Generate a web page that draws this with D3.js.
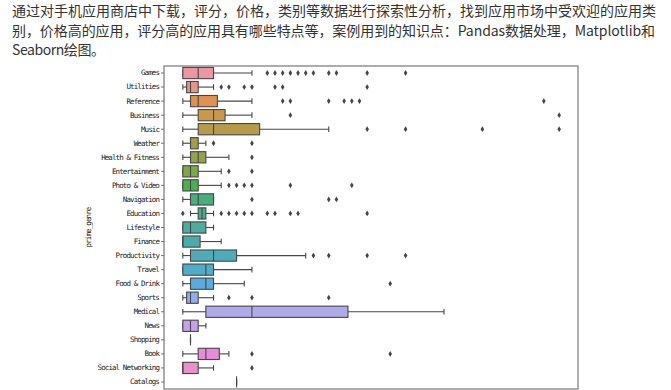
<!DOCTYPE html>
<html>
<head>
<meta charset="utf-8">
<script src="https://cdn.jsdelivr.net/npm/d3@7/dist/d3.min.js"></script>
<style>
  html, body { margin: 0; padding: 0; background: #fff; }
  svg { display: block; }
</style>
</head>
<body>
<svg id="chart" width="671" height="390"></svg>
<script>
// ---------------- DATA ----------------
const introLines = [
  "通过对手机应用商店中下载，评分，价格，类别等数据进行探索性分析，找到应用市场中受欢迎的应用类",
  "别，价格高的应用，评分高的应用具有哪些特点等，案例用到的知识点：Pandas数据处理，Matplotlib和",
  "Seaborn绘图。"
];
const yLabel = "prime_genre";
const genres = ["Games","Utilities","Reference","Business","Music","Weather","Health & Fitness",
  "Entertainment","Photo & Video","Navigation","Education","Lifestyle","Finance","Productivity",
  "Travel","Food & Drink","Sports","Medical","News","Shopping","Book","Social Networking","Catalogs"];
const whiskerLow  = [0.99,0.99,0.99,0.99,0.99,0.99,0.99,0.99,0.99,0.99,1.99,0.99,0.99,0.99,0.99,0.99,0.99,0.99,0.99,1.99,0.99,0.99,7.99];
const q1          = [0.99,1.49,1.99,2.99,2.99,1.99,1.99,0.99,0.99,1.99,2.99,0.99,0.99,1.99,0.99,1.99,1.49,3.99,0.99,1.99,2.99,0.99,7.99];
const medians     = [2.99,1.99,2.99,4.99,4.99,1.99,2.99,1.99,1.99,2.99,3.49,1.99,0.99,4.99,3.99,3.99,1.99,9.99,1.99,1.99,3.99,0.99,7.99];
const q3          = [4.99,2.99,5.49,6.49,10.99,2.99,3.99,2.99,2.99,4.99,3.99,3.99,3.24,7.99,4.99,4.99,2.99,22.49,2.99,1.99,5.74,2.99,7.99];
const whiskerHigh = [9.99,4.99,9.99,9.99,19.99,3.99,6.99,5.99,5.99,4.99,4.99,4.99,5.99,16.99,9.99,8.99,4.99,34.99,3.99,1.99,6.99,4.99,7.99];
const outliers = [
  [11.99,12.99,13.99,14.99,15.99,16.99,17.99,19.99,20.99,24.99,29.99],
  [5.99,6.99,8.99,9.99,12.99,13.99,24.99],
  [13.99,14.99,19.99,21.99,22.99,23.99,47.99],
  [14.99,49.99],
  [24.99,29.99,39.99,49.99],
  [4.99,9.99],
  [9.99],
  [6.99,9.99],
  [6.99,7.99,8.99,9.99,14.99,22.99],
  [9.99,19.99,20.99],
  [0.99,5.99,6.99,7.99,8.99,9.99,11.99,12.99,14.99,15.99,24.99],
  [],
  [],
  [17.99,19.99,24.99,29.99],
  [],
  [27.99],
  [6.99,9.99,19.99],
  [],
  [],
  [],
  [9.99,27.99],
  [9.99],
  []
];

// ---------------- seaborn-like husl palette ----------------
const M = [[3.2406,-1.5372,-0.4986],[-0.9689,1.8758,0.0415],[0.0557,-0.2040,1.0570]];
const refU = 0.19784, refV = 0.46834, labE = 0.008856, labK = 903.3;
function maxChroma(L, H) {
  const hr = H * Math.PI / 180, sinH = Math.sin(hr), cosH = Math.cos(hr);
  const sub1 = Math.pow(L + 16, 3) / 1560896.0;
  const sub2 = sub1 > 0.008856 ? sub1 : L / 903.3;
  let result = Infinity;
  for (const row of M) {
    const [m1, m2, m3] = row;
    const top = (0.99915 * m1 + 1.05122 * m2 + 1.14460 * m3) * sub2;
    const rb = 0.86330 * m3 - 0.17266 * m2;
    const lb = 0.12949 * m3 - 0.38848 * m1;
    const bottom = (rb * sinH + lb * cosH) * sub2;
    for (const t of [0, 1]) {
      const C = L * (top - 1.05122 * t) / (bottom + 0.17266 * sinH * t);
      if (C > 0 && C < result) result = C;
    }
  }
  return result;
}
function fInv(t) { const t3 = t * t * t; return t3 > labE ? t3 : (116 * t - 16) / labK; }
function fromLinear(c) { return c <= 0.0031308 ? 12.92 * c : 1.055 * Math.pow(c, 1 / 2.4) - 0.055; }
function huslToRgb(H, S, L) {
  const C = maxChroma(L, H) / 100 * S;
  const hr = H * Math.PI / 180;
  const U = Math.cos(hr) * C, V = Math.sin(hr) * C;
  const Y = fInv((L + 16) / 116);
  const vU = U / (13 * L) + refU, vV = V / (13 * L) + refV;
  const X = 0 - (9 * Y * vU) / ((vU - 4) * vV - vU * vV);
  const Z = (9 * Y - 15 * vV * Y - vV * X) / (3 * vV);
  return M.map(r => Math.min(1, Math.max(0, fromLinear(r[0] * X + r[1] * Y + r[2] * Z))));
}
function huslPalette(n, h = 0.01, s = 0.9, l = 0.7) {
  const out = [];
  for (let i = 0; i < n; i++) {
    let hue = ((i / n) + h) % 1 * 359;
    out.push(huslToRgb(hue, s * 99, l * 99));
  }
  return out;
}
const rawColors = huslPalette(genres.length);
const colors = rawColors.map(c => {
  const hsl = d3.hsl(d3.rgb(c[0] * 255, c[1] * 255, c[2] * 255));
  hsl.s *= 0.75;
  return hsl;
});
const lum = d3.min(colors, c => c.l) * 0.6;
const gray = d3.rgb(lum * 255, lum * 255, lum * 255).formatHex();

// ---------------- DRAW ----------------
const svg = d3.select("#chart");

// intro paragraph
const introY = [10, 30, 49];
const introLen = [644, 643, 93];
svg.selectAll("text.intro").data(introLines).join("text")
  .attr("class", "intro")
  .attr("x", 12)
  .attr("y", (d, i) => introY[i])
  .attr("dominant-baseline", "central")
  .attr("textLength", (d, i) => introLen[i])
  .attr("lengthAdjust", "spacing")
  .attr("font-family", "'Noto Sans CJK SC', sans-serif")
  .attr("font-size", 14)
  .attr("fill", "#333")
  .text(d => d);

const plot = { left: 164, right: 578, top: 66, bottom: 389 };
const x = d3.scaleLinear().domain([-1.46, 52.44]).range([plot.left, plot.right]);
const y = d3.scaleBand().domain(genres).range([plot.top, plot.bottom]).paddingInner(0).paddingOuter(0);
const boxW = y.bandwidth() * 0.8;
const capW = boxW * 0.5;

const rows = genres.map((g, i) => ({
  g, i, lo: whiskerLow[i], q1: q1[i], med: medians[i], q3: q3[i], hi: whiskerHigh[i], out: outliers[i]
}));

const gBox = svg.append("g");
const row = gBox.selectAll("g.row").data(rows).join("g")
  .attr("class", "row")
  .attr("transform", d => `translate(0,${y(d.g) + y.bandwidth() / 2})`);

const lw = 1.1;
// whiskers
row.append("line").attr("x1", d => x(d.lo)).attr("x2", d => x(d.q1)).attr("y1", 0).attr("y2", 0)
  .attr("stroke", gray).attr("stroke-width", lw);
row.append("line").attr("x1", d => x(d.q3)).attr("x2", d => x(d.hi)).attr("y1", 0).attr("y2", 0)
  .attr("stroke", gray).attr("stroke-width", lw);
// caps
row.append("line").attr("x1", d => x(d.lo)).attr("x2", d => x(d.lo)).attr("y1", -capW / 2).attr("y2", capW / 2)
  .attr("stroke", gray).attr("stroke-width", lw);
row.append("line").attr("x1", d => x(d.hi)).attr("x2", d => x(d.hi)).attr("y1", -capW / 2).attr("y2", capW / 2)
  .attr("stroke", gray).attr("stroke-width", lw);
// box
row.append("rect")
  .attr("x", d => x(d.q1)).attr("width", d => x(d.q3) - x(d.q1))
  .attr("y", -boxW / 2).attr("height", boxW)
  .attr("fill", d => colors[d.i].formatHex())
  .attr("stroke", gray).attr("stroke-width", lw);
// median
row.append("line").attr("x1", d => x(d.med)).attr("x2", d => x(d.med)).attr("y1", -boxW / 2).attr("y2", boxW / 2)
  .attr("stroke", gray).attr("stroke-width", lw);
// outliers (thin diamonds)
row.selectAll("path.flier").data(d => d.out).join("path")
  .attr("class", "flier")
  .attr("d", v => { const cx = x(v); return `M${cx},-2.9L${cx + 1.8},0L${cx},2.9L${cx - 1.8},0Z`; })
  .attr("fill", gray);

// frame
svg.append("rect")
  .attr("x", plot.left).attr("y", plot.top)
  .attr("width", plot.right - plot.left).attr("height", plot.bottom - plot.top)
  .attr("fill", "none").attr("stroke", "#8c8c8c").attr("stroke-width", 1.4);

// y axis
const yAxis = svg.append("g")
  .attr("transform", `translate(${plot.left},0)`)
  .call(d3.axisLeft(y).tickSize(3).tickPadding(2));
yAxis.select(".domain").remove();
yAxis.selectAll(".tick line").attr("stroke", "#555").attr("stroke-width", 0.8);
yAxis.selectAll(".tick text")
  .attr("font-family", "'DejaVu Sans Mono', monospace")
  .attr("font-size", 7.5)
  .attr("letter-spacing", "-0.9px")
  .attr("fill", "#222");

// y label
svg.append("text")
  .attr("transform", `translate(91,${(plot.top + plot.bottom) / 2}) rotate(-90)`)
  .attr("text-anchor", "middle")
  .attr("font-family", "'DejaVu Sans Mono', monospace")
  .attr("font-size", 7.5)
  .attr("letter-spacing", "-0.9px")
  .attr("fill", "#222")
  .text(yLabel);
</script>
</body>
</html>
